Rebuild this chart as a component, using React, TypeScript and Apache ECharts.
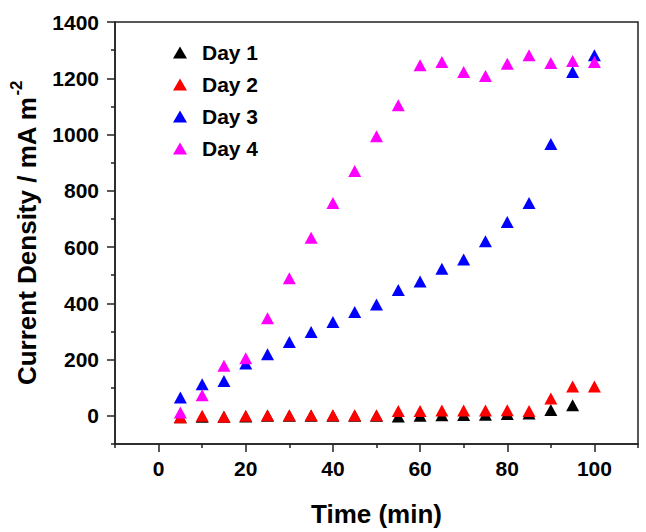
import React, { useEffect, useRef } from 'react';
import * as echarts from 'echarts';

// 时间 (min)
const times = [5, 10, 15, 20, 25, 30, 35, 40, 45, 50, 55, 60, 65, 70, 75, 80, 85, 90, 95, 100];

// 各天电流密度 (mA m-2)
const day1 = [-5, -3, -3, -2, 0, 0, 0, 0, 0, 0, -2, 0, 2, 3, 4, 7, 8, 21, 38];
const day2 = [-5, 0, -3, 0, 2, 2, 2, 2, 2, 2, 17, 17, 19, 19, 19, 20, 17, 62, 104, 104];
const day3 = [65, 112, 124, 186, 219, 263, 298, 334, 369, 396, 447, 478, 523, 556, 621, 689, 757, 966, 1222, 1282];
const day4 = [12, 73, 178, 205, 347, 489, 633, 757, 870, 994, 1104, 1246, 1258, 1222, 1208, 1252, 1282, 1254, 1261, 1258];

const seriesNames = ['Day 1', 'Day 2', 'Day 3', 'Day 4'];
const seriesColors = ['#000000', '#ff0000', '#0000ff', '#ff00ff'];
const seriesValues = [day1, day2, day3, day4];

const xMajorTicks = [0, 20, 40, 60, 80, 100];
const xMinorTicks = [-10, 10, 30, 50, 70, 90, 110];
const yMajorTicks = [0, 200, 400, 600, 800, 1000, 1200, 1400];
const yMinorTicks = [-100, 100, 300, 500, 700, 900, 1100, 1300];

const FONT = '"Liberation Sans", Arial, sans-serif';
const AXIS_COLOR = '#222';

const App: React.FC = () => {
  const chartRef = useRef<HTMLDivElement>(null);

  useEffect(() => {
    if (!chartRef.current) return;
    const chart = echarts.init(chartRef.current, undefined, { renderer: 'svg' });

    const axisLine = { show: true, onZero: false, lineStyle: { color: AXIS_COLOR, width: 1.5 } };
    const labelStyle = {
      color: '#000',
      fontSize: 21,
      fontWeight: 'bold' as const,
      fontFamily: FONT,
      formatter: (v: number) => String(v),
    };
    const tickLine = { color: AXIS_COLOR, width: 1.5 };

    chart.setOption({
      animation: false,
      textStyle: { fontFamily: FONT },
      grid: {
        left: 113,
        right: 8,
        top: 22,
        bottom: 86,
        show: true,
        borderColor: AXIS_COLOR,
        borderWidth: 1.5,
      },
      legend: {
        orient: 'vertical',
        left: 168,
        top: 37,
        itemWidth: 14,
        itemHeight: 12,
        itemGap: 11,
        icon: 'triangle',
        data: seriesNames,
        textStyle: {
          color: '#000',
          fontSize: 21,
          fontWeight: 'bold',
          fontFamily: FONT,
          padding: [0, 0, 0, 10],
        },
      },
      xAxis: [
        {
          type: 'value',
          min: -10,
          max: 110,
          position: 'bottom',
          name: 'Time (min)',
          nameLocation: 'middle',
          nameGap: 57,
          nameTextStyle: { color: '#000', fontSize: 26, fontWeight: 'bold', fontFamily: FONT },
          axisLine,
          axisTick: { show: true, inside: false, length: 8, customValues: xMajorTicks, lineStyle: tickLine },
          axisLabel: { ...labelStyle, margin: 14, customValues: xMajorTicks },
          splitLine: { show: false },
        },
        {
          type: 'value',
          min: -10,
          max: 110,
          position: 'bottom',
          axisLine: { show: false, onZero: false },
          axisTick: { show: true, inside: false, length: 4, customValues: xMinorTicks, lineStyle: tickLine },
          axisLabel: { show: false },
          splitLine: { show: false },
        },
      ],
      yAxis: [
        {
          type: 'value',
          min: -100,
          max: 1400,
          position: 'left',
          name: '{a|Current Density / mA m}{s|-2}',
          nameLocation: 'middle',
          nameGap: 75,
          nameTextStyle: {
            rich: {
              a: { color: '#000', fontSize: 26, fontWeight: 'bold', fontFamily: FONT, verticalAlign: 'bottom' },
              s: { color: '#000', fontSize: 17, fontWeight: 'bold', fontFamily: FONT, verticalAlign: 'top', padding: [0, 0, 15, 1] },
            },
          },
          axisLine,
          axisTick: { show: true, inside: false, length: 8, customValues: yMajorTicks, lineStyle: tickLine },
          axisLabel: { ...labelStyle, margin: 16, customValues: yMajorTicks },
          splitLine: { show: false },
        },
        {
          type: 'value',
          min: -100,
          max: 1400,
          position: 'left',
          axisLine: { show: false, onZero: false },
          axisTick: { show: true, inside: false, length: 4, customValues: yMinorTicks, lineStyle: tickLine },
          axisLabel: { show: false },
          splitLine: { show: false },
        },
      ],
      series: seriesNames.map((name, i) => ({
        name,
        type: 'scatter',
        symbol: 'triangle',
        symbolSize: [13, 12],
        itemStyle: { color: seriesColors[i], opacity: 1 },
        data: seriesValues[i].map((v, j) => [times[j], v]),
      })),
    });

    return () => {
      chart.dispose();
    };
  }, []);

  return (
    <div
      ref={chartRef}
      style={{ position: 'absolute', left: 0, top: 0, width: '646px', height: '532px', background: '#fff' }}
    />
  );
};

export default App;
